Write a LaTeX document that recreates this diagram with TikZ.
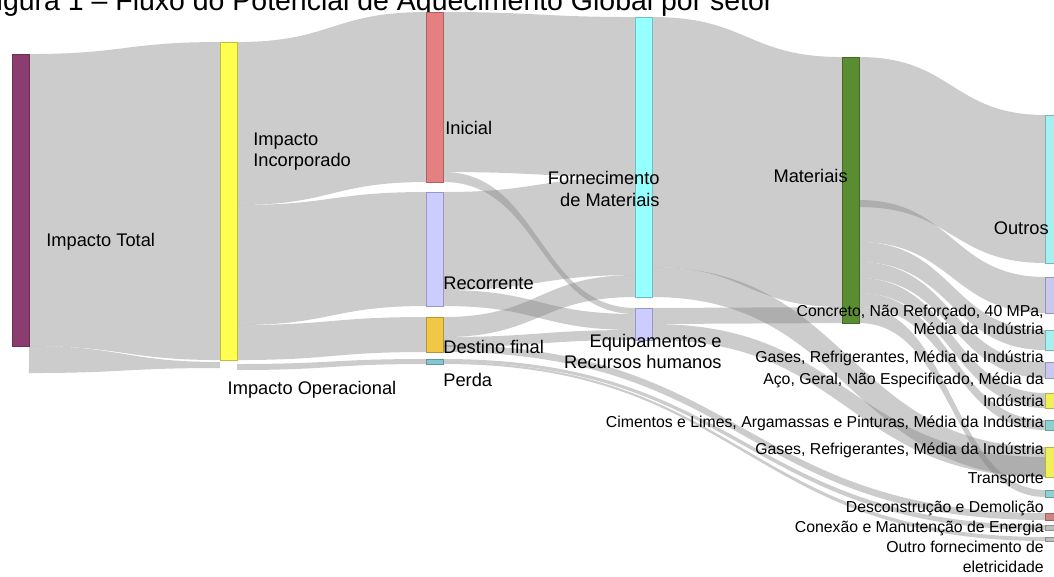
\documentclass[tikz,border=0pt]{standalone}
\usepackage{fontspec}
\setmainfont{Liberation Sans}
\usetikzlibrary{backgrounds}

\definecolor{roxo}{RGB}{139,61,111}
\definecolor{amarelo}{RGB}{255,255,80}
\definecolor{rosa}{RGB}{229,128,128}
\definecolor{lilas}{RGB}{204,204,255}
\definecolor{ouro}{RGB}{240,200,70}
\definecolor{azulperda}{RGB}{130,200,210}
\definecolor{ciano}{RGB}{150,255,255}
\definecolor{verde}{RGB}{90,140,50}
\definecolor{ciano2}{RGB}{165,240,240}
\definecolor{lilas2}{RGB}{200,200,240}
\definecolor{amarelo2}{RGB}{240,240,90}
\definecolor{teal2}{RGB}{140,210,210}
\definecolor{vermelho2}{RGB}{210,130,130}
\definecolor{cinza2}{RGB}{190,190,190}

\tikzset{barra/.style = {rectangle, minimum width=0.34cm, inner sep=0, outer sep=0,
                         draw=#1!75!black, fill=#1, line width=0.4pt},
         invis/.style = {rectangle, minimum width=0.34cm, inner sep=0, outer sep=0},
         fluxo/.style = {fill=gray, fill opacity=0.4, draw=none},
         rotulo/.style = {font=\fontsize{10.4}{12}\selectfont, inner sep=0, align=left},
         rotpeq/.style = {font=\fontsize{9}{10.5}\selectfont, inner sep=0, align=right, anchor=east}
        }

\newcommand{\faixa}[7]{%
  \fill[fluxo] ([yshift=-#2*0.02cm]#1.north east) .. controls +(#7,0) and +(-#7,0) .. ([yshift=-#5*0.02cm]#4.north west)
    -- ([yshift=-#6*0.02cm]#4.north west) .. controls +(-#7,0) and +(#7,0) .. ([yshift=-#3*0.02cm]#1.north east) -- cycle;}

\begin{document}
\begin{tikzpicture}[x=0.02cm, y=-0.02cm]
\useasboundingbox (0,0) rectangle (1054,576);
\node[anchor=base west, inner sep=0, font=\fontsize{16.2}{19}\selectfont] at (-21,10) (titulo) {Figura 1 – Fluxo do Potencial de Aquecimento Global por setor};

\node[barra=roxo, minimum height=5.84cm] at (20.5,200) (tot) {};
\node[barra=amarelo, minimum height=6.36cm] at (228.5,201) (inc) {};
\node[invis, minimum height=0.12cm] at (228.5,365) (oper) {};
\node[barra=rosa, minimum height=3.4cm] at (435,97) (ini) {};
\node[barra=lilas, minimum height=2.28cm] at (435,249) (rec) {};
\node[barra=ouro, minimum height=0.7cm] at (435,334.5) (dest) {};
\node[barra=azulperda, minimum height=0.1cm] at (435,361.5) (perda) {};
\node[barra=ciano, minimum height=5.6cm] at (644,157) (forn) {};
\node[barra=lilas, minimum height=0.64cm] at (644,324) (equip) {};
\node[barra=verde, minimum height=5.32cm] at (850.5,190) (mat) {};
\node[barra=ciano2, minimum height=2.96cm] at (1054,189) (outros) {};
\node[barra=lilas2, minimum height=0.72cm] at (1054,295) (concr) {};
\node[barra=ciano2, minimum height=0.4cm] at (1054,340) (ciano) {};
\node[barra=lilas2, minimum height=0.32cm] at (1054,370) (gasa) {};
\node[barra=amarelo2, minimum height=0.3cm] at (1054,400.5) (aco) {};
\node[barra=teal2, minimum height=0.2cm] at (1054,425) (cim) {};
\node[barra=amarelo2, minimum height=0.6cm] at (1054,462) (gasb) {};
\node[barra=teal2, minimum height=0.14cm] at (1054,493.5) (transp) {};
\node[barra=vermelho2, minimum height=0.14cm] at (1054,516.5) (desc) {};
\node[barra=cinza2, minimum height=0.1cm] at (1054,527.5) (conex) {};
\node[barra=cinza2, minimum height=0.08cm] at (1054,539) (eletr) {};

\begin{scope}[on background layer]
\faixa{tot}{0}{292}{inc}{0}{318}{95}
\faixa{tot}{292}{319}{oper}{0}{6}{95}
\faixa{inc}{0}{163}{ini}{0}{170}{95}
\faixa{inc}{163}{283}{rec}{0}{114}{95}
\faixa{inc}{283}{318}{dest}{0}{35}{95}
\faixa{oper}{2}{8}{perda}{0}{5}{95}
\faixa{ini}{0}{160}{forn}{0}{160}{96}
\faixa{ini}{160}{170}{equip}{0}{6}{96}
\faixa{rec}{0}{98}{forn}{160}{258}{96}
\faixa{rec}{98}{114}{equip}{6}{22}{96}
\faixa{dest}{0}{20}{forn}{258}{280}{96}
\faixa{dest}{20}{30}{equip}{22}{32}{96}
\faixa{forn}{0}{250}{mat}{0}{250}{95}
\faixa{equip}{0}{16}{mat}{250}{266}{95}
\faixa{mat}{0}{150}{outros}{0}{148}{94}
\faixa{mat}{143}{185}{concr}{0}{36}{94}
\faixa{mat}{185}{205}{ciano}{0}{20}{94}
\faixa{mat}{205}{221}{gasa}{0}{16}{94}
\faixa{mat}{221}{236}{aco}{0}{15}{94}
\faixa{mat}{236}{250}{cim}{0}{10}{94}
\faixa{mat}{250}{266}{transp}{0}{7}{94}
\faixa{forn}{250}{280}{gasb}{0}{30}{197}
\faixa{equip}{16}{32}{gasb}{10}{30}{197}
\faixa{dest}{28}{35}{desc}{0}{7}{301}
\faixa{perda}{0}{3}{conex}{0}{5}{301}
\faixa{perda}{3}{5}{eletr}{0}{4}{301}
\end{scope}

\node[rotulo, anchor=west] at (46,242) (ltot) {Impacto Total};
\node[rotulo, anchor=west] at (253,152) (linc) {Impacto\\Incorporado};
\node[rotulo] at (312,390) (loper) {Impacto Operacional};
\node[rotulo, anchor=west] at (445,128) (lini) {Inicial};
\node[rotulo, anchor=west] at (443,283) (lrec) {Recorrente};
\node[rotulo, anchor=west] at (443,347) (ldest) {Destino final};
\node[rotulo, anchor=west] at (443,380) (lperda) {Perda};
\node[rotulo, anchor=east, align=right] at (660,189) (lforn) {Fornecimento\\de Materiais};
\node[rotulo, anchor=east, align=right] at (722,351) (lequip) {Equipamentos e\\Recursos humanos};
\node[rotulo, anchor=east] at (848,176) (lmat) {Materiais};
\node[rotulo, anchor=east] at (1049,228) (loutros) {Outros};
\node[rotpeq] at (1044,320) (lconcr) {Concreto, Não Reforçado, 40 MPa,\\Média da Indústria};
\node[rotpeq] at (1044,358) (lgasa) {Gases, Refrigerantes, Média da Indústria};
\node[rotpeq] at (1044,390) (laco) {Aço, Geral, Não Especificado, Média da\\[2pt]Indústria};
\node[rotpeq] at (1044,423) (lcim) {Cimentos e Limes, Argamassas e Pinturas, Média da Indústria};
\node[rotpeq] at (1044,450) (lgasb) {Gases, Refrigerantes, Média da Indústria};
\node[rotpeq] at (1044,480) (ltransp) {Transporte};
\node[rotpeq] at (1044,508) (ldesc) {Desconstrução e Demolição};
\node[rotpeq] at (1044,528) (lconex) {Conexão e Manutenção de Energia};
\node[rotpeq] at (1044,557) (leletr) {Outro fornecimento de\\[1pt]eletricidade};
\end{tikzpicture}
\end{document}
